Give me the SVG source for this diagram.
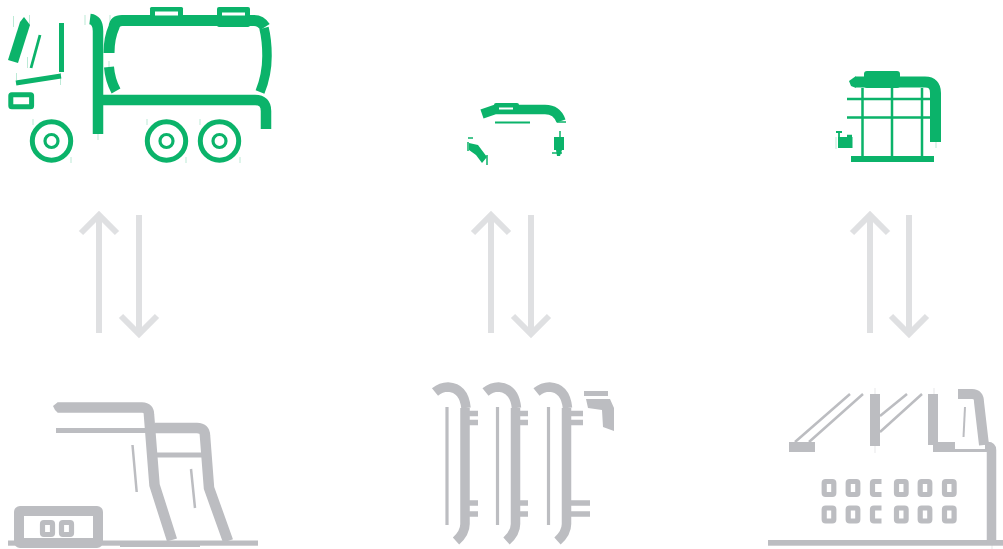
<svg xmlns="http://www.w3.org/2000/svg" xmlns:xlink="http://www.w3.org/1999/xlink" width="1003" height="549" viewBox="0 0 1003 549">
<style>
.g{fill:#0bb36a;stroke:none}
.gs{fill:none;stroke:#0bb36a}
.k{fill:#bcbdc1;stroke:none}
.ks{fill:none;stroke:#bcbdc1}
.a{fill:none;stroke:#dfe0e2;stroke-width:6}
.w{fill:#fff;stroke:none}
.tg{fill:none;stroke:#0bb36a;stroke-width:.8;opacity:.35}
.tk{fill:none;stroke:#bcbdc1;stroke-width:.8;opacity:.45}
</style>
<defs>
<g id="wheel"><circle r="19.2" class="gs" stroke-width="5"/><circle r="6.500" class="gs" stroke-width="3.200"/></g>
<g id="hook"><path class="ks" stroke-width="9.500" d="M435,392Q441,387 448,387Q464,388 466,408"/><path class="ks" stroke-width="9.500" d="M465,408V524Q465,533 456,541"/><path class="ks" stroke-width="3.200" d="M447,407V525"/></g>
<rect id="win" width="9.600" height="13" rx="1.500" class="ks" stroke-width="5.200"/>
<path id="cw" class="ks" stroke-width="5.200" d="M11.500,2.500H4Q2.500,2.500 2.500,4V14Q2.500,15.500 4,15.500H11.500"/>
</defs>
<g id="connectors">
<path class="a" d="M99,333V216M81,233L99,215L117,233M139,215V333M121,316L139,334L157,316"/>
<path class="a" d="M491,333V216M473,233L491,215L509,233M531,215V333M513,316L531,334L549,316"/>
<path class="a" d="M870,333V216M852,233L870,215L888,233M909,215V333M891,316L909,334L927,316"/>
</g>
<g id="truck">
<path class="g" d="M8,60L20,22L24,17L30,25L18,63Z"/>
<path class="gs" stroke-width="2.800" d="M40,35L31,68"/>
<path class="gs" stroke-width="5" d="M61.500,23V72"/>
<path class="gs" stroke-width="5" d="M16,83L61,76"/>
<rect x="10.800" y="94.700" width="20.800" height="12" rx="1" class="gs" stroke-width="5"/>
<path class="gs" stroke-width="10.500" d="M90,19Q98,20 98,31V134"/>
<path class="gs" stroke-width="10.500" d="M103,100H255Q266,100 266,111V129"/>
<path class="gs" stroke-width="11" d="M265,27Q261,20.500 254,20.500H122Q115,20.500 114,27Q109,38 109,53"/>
<path class="gs" stroke-width="10" d="M109,67Q110,80 116,91"/>
<path class="gs" stroke-width="9.500" d="M264,28Q267,40 267,56Q267,75 260,92"/>
<rect x="150" y="7" width="33" height="10" rx="1.500" class="g"/>
<rect x="155" y="11.500" width="23" height="4" class="w"/>
<rect x="217" y="7" width="33" height="20" rx="2" class="g"/>
<rect x="222" y="12.500" width="23" height="3" class="w"/>
<use xlink:href="#wheel" href="#wheel" x="51.500" y="141"/>
<use xlink:href="#wheel" href="#wheel" x="166.500" y="141"/>
<use xlink:href="#wheel" href="#wheel" x="219.500" y="141"/>
<path class="tg" d="M13.500,16V27M29.500,15V26M27.500,57V68M16.500,73V80M60.500,73V85M85,15V25M110,15V25M109,61V68M33,119V125M71,157V163M98,134V140M147,119V125M186,157V163M200,119V125M240,157V163"/>
</g>
<g id="hose">
<path class="gs" stroke-width="9.500" d="M482,114L495,109.500H545Q557,109.500 561,121"/>
<rect x="494" y="103" width="25" height="7" rx="2" class="g"/>
<rect x="499" y="107.500" width="14" height="2" class="w"/>
<path class="gs" stroke-width="2.200" d="M495,122.500H530"/>
<path class="gs" stroke-width="1.500" d="M557,122H566M560,131V137"/>
<path class="g" d="M554,137H564V150H562L560,156H557L556,150H554Z"/>
<path class="gs" stroke-width="1.500" d="M552,153H562"/>
<path class="g" d="M469,143L478,145L487,157L482,163L476,155L469,150Z"/>
<path class="gs" stroke-width="1.500" d="M468,138H473M468,142V151M487,155V165"/>
</g>
<g id="ibc">
<path class="gs" stroke-width="2.500" d="M862.500,88V157M892,88V157M922,88V157M847,99H930M847,117.500H930M847,136H852"/>
<path class="gs" stroke-width="11" d="M856,82H925Q935.500,82 935.500,93V142"/>
<path class="g" d="M849,81L856,76V88L851,86Z"/>
<rect x="864" y="71" width="36" height="17" rx="3" class="g"/>
<rect x="851" y="156" width="83" height="6" class="g"/>
<rect x="838" y="137" width="14.500" height="11" class="g"/>
<path class="gs" stroke-width="1.800" d="M836,132H842M839,132V138"/>
<path class="tg" d="M836,137V149M936,142V148"/>
</g>
<g id="plant">
<path class="ks" stroke-width="10.500" d="M58,407.500H142Q149,407.500 149,415L154.500,485L172,540"/>
<path class="k" d="M53,406L58,402V413L55,410Z"/>
<path class="ks" stroke-width="5" d="M56,430.500H150"/>
<path class="ks" stroke-width="10.500" d="M155,428H197Q205,428 205,436L209,488L228,541"/>
<path class="ks" stroke-width="5.200" d="M157,455H203"/>
<path class="ks" stroke-width="2.500" d="M132.500,445L136.700,492M191,469L195,508"/>
<rect x="8" y="540.500" width="250" height="5.200" class="k"/>
<rect x="120" y="543" width="80" height="4" class="k"/>
<rect x="19" y="511" width="79" height="32" rx="1" class="ks" stroke-width="10"/>
<rect x="42.500" y="522.500" width="10" height="12" rx="1.500" class="ks" stroke-width="5.200"/>
<rect x="61.500" y="522.500" width="10" height="12" rx="1.500" class="ks" stroke-width="5.200"/>
</g>
<g id="coils">
<use xlink:href="#hook" href="#hook"/>
<use xlink:href="#hook" href="#hook" x="50.500"/>
<use xlink:href="#hook" href="#hook" x="101.500"/>
<path class="ks" stroke-width="5.500" d="M469,413.500H478M469,422.500H478M469,503H478M469,514H478M520,413.500H528M520,422.500H528M520,503H528M520,514H528M571,413.500H583M571,422.500H583M571,503H590M571,514H590"/>
<rect x="584" y="391" width="24" height="5" class="k"/>
<path class="k" d="M586,399H610L614,408V431L603,427L602,410L588,408Z"/>
</g>
<g id="factory">
<rect x="768" y="540" width="235" height="5.700" class="k"/>
<path class="ks" stroke-width="9.500" d="M991.500,545V450Q991.500,446.500 988,446.500H985"/>
<rect x="789" y="442" width="26" height="10" class="k"/>
<path class="ks" stroke-width="2.500" d="M795,442L850,394M809,442L863,394M880,416L907,394M880,432L922,394"/>
<rect x="870" y="394" width="10" height="52" class="k"/>
<path class="k" d="M928,394H938V442H955V452H933V445H928Z"/>
<rect x="955" y="449" width="32" height="3" class="k"/>
<path class="ks" stroke-width="10" d="M958,394H972Q979,394 979,402L984,445"/>
<path class="ks" stroke-width="2" d="M965,407L963.500,437"/>
<use xlink:href="#win" href="#win" x="824.200" y="481.500"/>
<use xlink:href="#win" href="#win" x="848.200" y="481.500"/>
<use xlink:href="#cw" href="#cw" x="870" y="479"/>
<use xlink:href="#win" href="#win" x="896.500" y="481.500"/>
<use xlink:href="#win" href="#win" x="920.200" y="481.500"/>
<use xlink:href="#win" href="#win" x="944.500" y="481.500"/>
<use xlink:href="#win" href="#win" x="824.200" y="508"/>
<use xlink:href="#win" href="#win" x="848.200" y="508"/>
<use xlink:href="#cw" href="#cw" x="870" y="505.500"/>
<use xlink:href="#win" href="#win" x="896.500" y="508"/>
<use xlink:href="#win" href="#win" x="920.200" y="508"/>
<use xlink:href="#win" href="#win" x="944.500" y="508"/>
<path class="tk" d="M875,388V394M875,446V453M934,388V394M992,545V549"/>
</g>
</svg>
